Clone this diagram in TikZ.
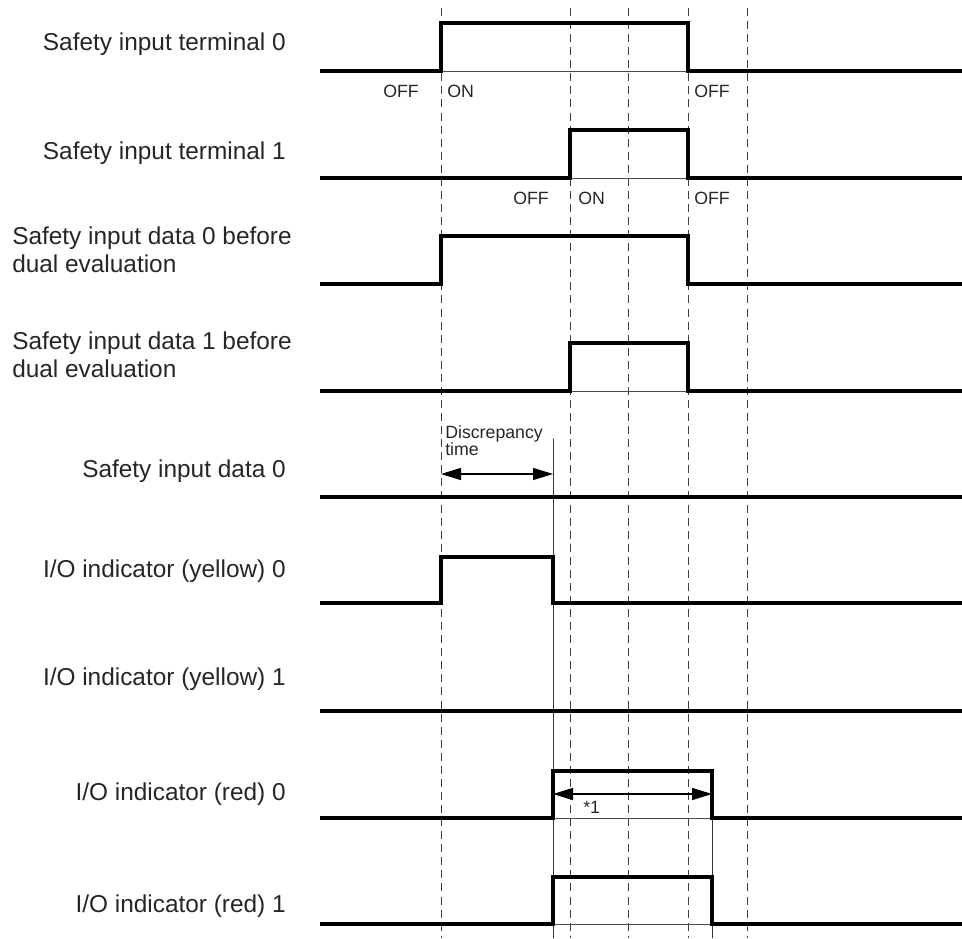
\documentclass[tikz,border=0pt]{standalone}
\usepackage{fontspec}
\setmainfont{Liberation Sans}
\usetikzlibrary{arrows.meta}
\tikzset{
  every picture/.style={line cap=round, >={Triangle[length=15pt,width=9pt]}},
  signal/.style={line width=2.5pt, line join=miter, line cap=butt},
  baseline thin/.style={line width=0.6pt, black!70},
  guide/.style={line width=0.6pt, black!75, dash pattern=on 6pt off 3.8pt, line cap=butt},
  edge line/.style={line width=0.6pt, black!80},
  lbl/.style={inner sep=0pt, font=\fontsize{18.3}{21}\selectfont, text=black!85},
  state/.style={inner sep=0pt, anchor=base west, font=\fontsize{13.3}{12.8}\selectfont, text=black!85},
}

\begin{document}
\begin{tikzpicture}[x=0.75pt,y=-0.75pt]
\useasboundingbox (0,0) rectangle (962,938);
% time guides
\foreach \t in {441,570,628,688,747}
  \draw[guide] (\t,8)--(\t,938);
\draw[edge line] (553,439)--(553,938)
(712,771)--(712,938);
% labels
\node[lbl,anchor=base east] (term0) at (286,51) {Safety input terminal 0};
\node[lbl,anchor=base east] (term1) at (286,159) {Safety input terminal 1};
\node[lbl,anchor=north west,align=left] (pre0) at (12,227) {Safety input data 0 before\\dual evaluation};
\node[lbl,anchor=north west,align=left] (pre1) at (12,332) {Safety input data 1 before\\dual evaluation};
\node[lbl,anchor=base east] (data0) at (286,477) {Safety input data 0};
\node[lbl,anchor=base east] (yel0) at (286,577) {I/O indicator (yellow) 0};
\node[lbl,anchor=base east] (yel1) at (286,685) {I/O indicator (yellow) 1};
\node[lbl,anchor=base east] (red0) at (286,800) {I/O indicator (red) 0};
\node[lbl,anchor=base east] (red1) at (286,912) {I/O indicator (red) 1};
% thin base under the pulses
\draw[baseline thin] (441,71)--(688,71)
(570,178)--(688,178)
(570,391)--(688,391)
(553,818)--(712,818)
(553,924)--(712,924);
% signals
\draw[signal] (320,71)--(441,71)--(441,23)--(688,23)--(688,71)--(962,71);
\draw[signal] (320,178)--(570,178)--(570,130)--(688,130)--(688,178)--(962,178);
\draw[signal] (320,284)--(441,284)--(441,236)--(688,236)--(688,284)--(962,284);
\draw[signal] (320,391)--(570,391)--(570,343)--(688,343)--(688,391)--(962,391);
\draw[signal] (320,497)--(962,497);
\draw[signal] (320,603)--(441,603)--(441,557)--(553,557)--(553,603)--(962,603);
\draw[signal] (320,711)--(962,711);
\draw[signal] (320,818)--(553,818)--(553,771)--(712,771)--(712,818)--(962,818);
\draw[signal] (320,924)--(553,924)--(553,877)--(712,877)--(712,924)--(962,924);
% states
\node[state] (off0a) at (383,98) {OFF};
\node[state] (on0) at (447,98) {ON};
\node[state] (off0b) at (694,98) {OFF};
\node[state] (off1a) at (513,204) {OFF};
\node[state] (on1) at (578,204) {ON};
\node[state] (off1b) at (694,204) {OFF};
% discrepancy time
\coordinate (disc start) at (441,474);
\coordinate (disc end) at (553,474);
\draw[<->,line width=1.1pt] (disc start)--(disc end);
\node[state,anchor=north west,align=left] (disc) at (445,425) {Discrepancy\\time};
% *1
\coordinate (mark start) at (553,794);
\coordinate (mark end) at (712,794);
\draw[<->,line width=1.1pt] (mark start)--(mark end);
\node[state] (note) at (583,813) {*1};
\end{tikzpicture}
\end{document}
